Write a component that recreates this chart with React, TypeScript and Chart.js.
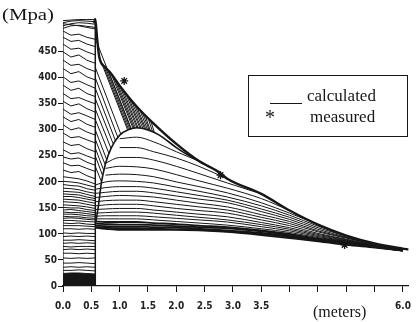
import { useEffect, useRef } from "react";
import { Chart, registerables } from "chart.js";

Chart.register(...registerables);

const INK = "#161616";

// axis ticks
const xTicks = [0, 0.5, 1, 1.5, 2, 2.5, 3, 3.5, 4, 4.5, 5, 5.5, 6];
const xTickLabels = ["0.0", "0.5", "1.0", "1.5", "2.0", "2.5", "3.0", "3.5", "", "", "", "", "6.0"];
const yTicks = [0, 50, 100, 150, 200, 250, 300, 350, 400, 450];

// left block (0 .. 0.57 m): stress lines, values at blockX
const blockX = [0, 0.14, 0.28, 0.42, 0.57];
const blockDark = [24, 25, 25, 24, 23];
const blockLines = [
  [30, 30, 31, 30, 29], [36, 37, 36, 37, 36], [44, 44, 45, 44, 43], [54, 53, 54, 53, 54],
  [63, 63, 62, 63, 62], [70, 71, 70, 71, 70], [76, 75, 76, 76, 76], [82, 83, 82, 83, 82],
  [88, 88, 89, 88, 87], [95, 96, 95, 96, 95], [102, 101, 102, 101, 101], [110, 110, 109, 110, 109],
  [116, 116, 116, 115, 114], [121, 120, 121, 119, 118], [126, 126, 125, 124, 123],
  [130, 131, 130, 128, 127], [134, 133, 133, 131, 130], [138, 138, 137, 135, 134],
  [142, 141, 141, 139, 137], [146, 147, 145, 143, 141], [151, 150, 150, 147, 145],
  [156, 155, 154, 152, 149], [162, 161, 160, 157, 154], [167, 166, 165, 162, 159],
  [172, 172, 170, 167, 164], [177, 176, 175, 171, 168], [182, 181, 180, 176, 172],
  [188, 187, 185, 181, 178], [195, 193, 192, 187, 184], [201, 200, 198, 194, 190],
  [210, 208, 206, 202, 196], [223, 218, 220, 212, 206], [237, 231, 232, 226, 220],
  [248, 244, 246, 238, 232], [262, 254, 256, 250, 244], [277, 270, 272, 264, 258],
  [294, 285, 287, 281, 275], [310, 300, 304, 296, 290], [325, 316, 320, 311, 305],
  [340, 330, 333, 327, 320], [355, 346, 350, 341, 334], [370, 360, 362, 356, 350],
  [386, 376, 380, 370, 364], [402, 391, 394, 387, 380], [418, 408, 412, 402, 396],
  [434, 424, 426, 418, 412], [450, 440, 444, 434, 428], [465, 455, 457, 450, 444],
  [478, 470, 472, 465, 460], [490, 482, 484, 478, 474], [495, 500, 501, 499, 497],
  [500, 504, 506, 505, 503], [504, 502, 500, 497, 494], [506, 509, 510, 509, 508],
  [510, 511, 512, 512, 512],
];
const blockEdgeX = 0.57;
const blockEdgeTop = 513;
const blockLeftTop = 505;

// upper envelope of the calculated curves
const envelopeX = [0.55, 0.57, 0.6, 0.64, 0.75, 0.85, 1.0, 1.3, 1.6, 2.0, 2.4, 2.75, 2.9, 3.5, 4.0, 4.5, 5.0, 5.5, 6.1];
const envelopeY = [505, 513, 478, 440, 420, 408, 385, 345, 312, 273, 240, 219, 206, 177, 145, 118, 97, 82, 70];

// inner hump curve
const humpX = [0.57, 0.62, 0.68, 0.75, 0.85, 1.0, 1.15, 1.3, 1.5, 1.7, 2.0, 2.2, 2.4];
const humpY = [118, 150, 200, 235, 265, 290, 300, 304, 300, 290, 266, 252, 240];

// family of calculated curves, values at familyX
const familyX = [0.57, 0.75, 1.0, 1.3, 1.6, 2.0, 2.4, 2.9, 3.5, 4.0, 4.5, 5.0, 5.5, 6.0];
const familyLines: (number | null)[][] = [
  [null, null, 283, 286, 277, 258, 240, null, null, null, null, null, null, null],
  [null, null, 266, 266, 258, 246, 230, 206, null, null, null, null, null, null],
  [null, 236, 247, 247, 242, 230, 216, 198, 177, null, null, null, null, null],
  [null, 226, 230, 229, 225, 214, 202, 188, 168, 145, null, null, null, null],
  [null, 213, 215, 214, 210, 200, 191, 179, 160, 140, 118, null, null, null],
  [194, 200, 202, 201, 198, 190, 182, 171, 154, 136, 115, 97, null, null],
  [186, 189, 191, 191, 188, 181, 174, 165, 148, 132, 112, 96, 82, null],
  [178, 180, 182, 182, 179, 173, 167, 160, 143, 128, 109, 94, 81, 71],
  [170, 172, 174, 173, 171, 165, 159, 152, 137, 124, 106, 93, 80, 71],
  [162, 164, 165, 165, 162, 157, 152, 146, 132, 120, 104, 92, 80, 70],
  [154, 156, 157, 157, 154, 149, 145, 140, 127, 116, 101, 90, 79, 70],
  [147, 148, 149, 149, 146, 142, 138, 133, 122, 112, 99, 89, 78, 70],
  [140, 141, 142, 142, 140, 136, 132, 127, 118, 109, 97, 88, 78, 69],
  [134, 135, 135, 135, 133, 130, 127, 123, 114, 106, 95, 87, 77, 69],
  [129, 129, 129, 129, 127, 124, 121, 117, 110, 103, 93, 86, 77, 69],
  [124, 123, 123, 123, 121, 119, 116, 113, 107, 100, 91, 85, 76, 69],
  [120, 119, 118, 118, 117, 115, 113, 111, 105, 98, 90, 84, 76, 68],
  [116, 115, 114, 114, 113, 112, 110, 107, 102, 96, 89, 83, 75, 68],
  [113, 112, 111, 111, 110, 109, 108, 105, 100, 94, 87, 81, 75, 68],
  [112, 110, 108, 108, 108, 108, 107, 104, 98, 92, 86, 79, 74, 68],
];

// hatching between envelope and hump
const hatchStartX = [
  0.57, 0.57, 0.57, 0.57, 0.57, 0.57, 0.57, 0.57, 0.57, 0.57, 0.57, 0.59, 0.64, 0.7, 0.75, 0.8,
  0.85, 0.9, 0.95, 1.0, 1.05, 1.1, 1.15, 1.2, 1.25, 1.3, 1.35, 1.4, 1.45, 1.5, 1.55,
];
const hatchStartY = [
  230, 250, 265, 282, 300, 320, 340, 360, 380, 400, 420, 470, 440, 428, 420, 414,
  408, 400, 392, 385, 378, 372, 365, 358, 352, 345, 340, 334, 328, 323, 317,
];
const hatchEndX = [
  0.68, 0.7, 0.72, 0.745, 0.77, 0.81, 0.85, 0.89, 0.93, 0.97, 1.02, 1.2, 1.14, 1.16, 1.18, 1.21,
  1.24, 1.26, 1.28, 1.31, 1.33, 1.36, 1.38, 1.41, 1.44, 1.46, 1.49, 1.52, 1.54, 1.58, 1.61,
];
const hatchEndY = [
  200, 212, 222, 233, 243, 255, 264, 272, 278, 285, 292, 301, 300, 300, 301, 301,
  302, 302, 303, 303, 303, 303, 303, 303, 302, 302, 301, 300, 299, 297, 296,
];

// measured values
const measuredX = [1.08, 2.78, 4.97];
const measuredY = [394, 213, 79];

const TICK_FONT = "'Liberation Sans Narrow', 'DejaVu Sans Condensed', 'Liberation Sans', sans-serif";
const SERIF = "'Liberation Serif', 'DejaVu Serif', serif";

function lineDs(points: { x: number; y: number }[], width = 1, smooth = false) {
  return {
    type: "scatter" as const,
    data: points,
    showLine: true,
    borderColor: INK,
    backgroundColor: INK,
    borderWidth: width,
    pointRadius: 0,
    fill: false,
    tension: 0,
    cubicInterpolationMode: smooth ? ("monotone" as const) : ("default" as const),
  };
}

export default function App() {
  const ref = useRef<HTMLCanvasElement | null>(null);

  useEffect(() => {
    if (!ref.current) return;
    const datasets: any[] = [];

    datasets.push({
      ...lineDs(blockX.map((x, i) => ({ x, y: blockDark[i] }))),
      fill: "origin",
      backgroundColor: INK,
    });
    blockLines.forEach((row) => {
      datasets.push(lineDs(blockX.map((x, i) => ({ x, y: row[i] }))));
    });
    datasets.push(lineDs([{ x: 0, y: 0 }, { x: 0, y: blockLeftTop }], 1.2));
    datasets.push(lineDs([{ x: blockEdgeX, y: 0 }, { x: blockEdgeX, y: blockEdgeTop }], 1.5));

    hatchStartX.forEach((sx, i) => {
      datasets.push(lineDs([{ x: sx, y: hatchStartY[i] }, { x: hatchEndX[i], y: hatchEndY[i] }], 1));
    });

    familyLines.forEach((row, k) => {
      const pts = familyX
        .map((x, i) => ({ x, y: row[i] }))
        .filter((p) => p.y !== null) as { x: number; y: number }[];
      datasets.push(lineDs(pts, k >= familyLines.length - 5 ? 1.8 : 1, true));
    });

    datasets.push(lineDs(humpX.map((x, i) => ({ x, y: humpY[i] })), 1.6, true));
    datasets.push(lineDs(envelopeX.map((x, i) => ({ x, y: envelopeY[i] })), 2.4, true));

    datasets.push({
      type: "scatter",
      data: measuredX.map((x, i) => ({ x, y: measuredY[i] })),
      showLine: false,
      pointStyle: "star",
      pointRadius: 4,
      borderWidth: 1.3,
      borderColor: INK,
      backgroundColor: INK,
    });

    const chart = new Chart(ref.current, {
      type: "scatter",
      data: { datasets },
      options: {
        animation: false,
        responsive: false,
        devicePixelRatio: 1,
        layout: { padding: { top: 18, right: 3, left: 0, bottom: 0 } },
        plugins: { legend: { display: false }, tooltip: { enabled: false } },
        scales: {
          x: {
            type: "linear",
            min: 0,
            max: 6.1,
            afterBuildTicks: (s: any) => {
              s.ticks = xTicks.map((v) => ({ value: v }));
            },
            afterFit: (s: any) => {
              s.height = 36;
            },
            ticks: {
              autoSkip: false,
              maxRotation: 0,
              padding: 8,
              color: "#222",
              font: { family: TICK_FONT, size: 10, weight: "bold" },
              callback: (_v: any, i: number) => xTickLabels[i],
            },
            grid: { display: true, drawOnChartArea: false, drawTicks: true, tickLength: 6, color: INK, lineWidth: 1 },
            border: { display: true, color: INK, width: 1.2 },
          },
          y: {
            type: "linear",
            min: 0,
            max: 515,
            afterBuildTicks: (s: any) => {
              s.ticks = yTicks.map((v) => ({ value: v }));
            },
            afterFit: (s: any) => {
              s.width = 63;
            },
            ticks: {
              autoSkip: false,
              padding: 1,
              color: "#222",
              font: { family: TICK_FONT, size: 10, weight: "bold" },
              callback: (v: any) => String(v),
            },
            grid: { display: true, drawOnChartArea: false, drawTicks: true, tickLength: 5, color: INK, lineWidth: 1 },
            border: { display: false },
          },
        },
      },
    } as any);
    return () => chart.destroy();
  }, []);

  return (
    <div style={{ position: "fixed", left: 0, top: 0, width: 419, height: 322, background: "#fff", overflow: "hidden" }}>
      <canvas ref={ref} width={419} height={322} style={{ display: "block", position: "absolute", left: 0, top: 0 }} />
      <div
        style={{
          position: "absolute", left: 2, top: 7, fontFamily: SERIF, fontSize: 16, lineHeight: "16px",
          color: INK, transform: "scaleX(1.3)", transformOrigin: "left top", whiteSpace: "nowrap",
        }}
      >
        (Mpa)
      </div>
      <div
        style={{
          position: "absolute", left: 313, top: 304, fontFamily: SERIF, fontSize: 16, lineHeight: "16px",
          color: INK, whiteSpace: "nowrap",
        }}
      >
        (meters)
      </div>
      <div
        style={{
          position: "absolute", left: 248, top: 75, width: 158, height: 60, border: `1px solid ${INK}`,
        }}
      />
      <div style={{ position: "absolute", left: 270, top: 103, width: 32, height: 0, borderTop: `1px solid ${INK}` }} />
      <div
        style={{
          position: "absolute", left: 307, top: 87, fontFamily: SERIF, fontSize: 17, lineHeight: "17px",
          color: INK, whiteSpace: "nowrap",
        }}
      >
        calculated
      </div>
      <div
        style={{
          position: "absolute", left: 265, top: 107, fontFamily: SERIF, fontSize: 20, lineHeight: "20px",
          color: INK, whiteSpace: "nowrap",
        }}
      >
        *
      </div>
      <div
        style={{
          position: "absolute", left: 310, top: 108, fontFamily: SERIF, fontSize: 17, lineHeight: "17px",
          color: INK, whiteSpace: "nowrap",
        }}
      >
        measured
      </div>
    </div>
  );
}
